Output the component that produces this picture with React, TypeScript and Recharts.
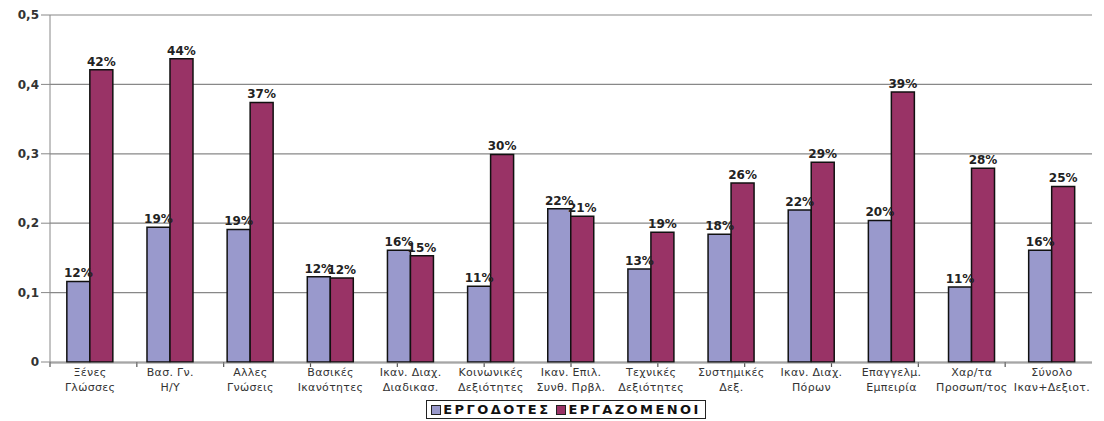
import React from 'react';
import { BarChart, Bar, XAxis, YAxis, CartesianGrid, Legend, LabelList } from 'recharts';

const categories = [
  ['Ξένες', 'Γλώσσες'],
  ['Βασ. Γν.', 'Η/Υ'],
  ['Αλλες', 'Γνώσεις'],
  ['Βασικές', 'Ικανότητες'],
  ['Ικαν. Διαχ.', 'Διαδικασ.'],
  ['Κοινωνικές', 'Δεξιότητες'],
  ['Ικαν. Επιλ.', 'Συνθ. Πρβλ.'],
  ['Τεχνικές', 'Δεξιότητες'],
  ['Συστημικές', 'Δεξ.'],
  ['Ικαν. Διαχ.', 'Πόρων'],
  ['Επαγγελμ.', 'Εμπειρία'],
  ['Χαρ/τα', 'Προσωπ/τος'],
  ['Σύνολο', 'Ικαν+Δεξιοτ.'],
];

const employers = [0.116, 0.194, 0.191, 0.123, 0.161, 0.109, 0.221, 0.134, 0.184, 0.219, 0.204, 0.108, 0.161];
const employees = [0.421, 0.437, 0.374, 0.121, 0.153, 0.299, 0.21, 0.187, 0.258, 0.288, 0.389, 0.279, 0.253];

const yTicks = [0, 0.1, 0.2, 0.3, 0.4, 0.5];
// category boundaries for the small tick marks on the x axis
const edgeTicks = categories.map((_, i) => i).concat([categories.length]);

const BLUE = '#9999cc';
const RED = '#993366';

const data = categories.map((c, i) => ({
  name: c.join('\n'),
  employers: employers[i],
  employees: employees[i],
}));

const pct = (v: number) => Math.round(v * 100) + '%';
const fmtY = (v: number) => (v === 0 ? '0' : v.toFixed(1).replace('.', ','));

const XTick = (props: any) => {
  const { x, y, payload } = props;
  const lines = String(payload.value).split('\n');
  return (
    <text x={x} y={y + 5} textAnchor="middle" fill="#333" fontSize={11} letterSpacing={0.3} fontFamily="DejaVu Sans">
      {lines.map((l, i) => (
        <tspan key={i} x={x} dy={i === 0 ? 0 : 15}>{l}</tspan>
      ))}
    </text>
  );
};

const NoTick = () => <g />;

const LegendBox = () => (
  <div style={{ display: 'flex', justifyContent: 'center', paddingLeft: 40, paddingTop: 3 }}>
    <div
      style={{
        display: 'inline-flex',
        alignItems: 'center',
        border: '1.5px solid #222',
        padding: '1px 4px',
        fontFamily: 'DejaVu Sans',
        fontWeight: 'bold',
        fontSize: 13,
        letterSpacing: 2.4,
        color: '#111',
        lineHeight: '15px',
      }}
    >
      {[{ c: BLUE, t: 'ΕΡΓΟΔΟΤΕΣ' }, { c: RED, t: 'ΕΡΓΑΖΟΜΕΝΟΙ' }].map((it, i) => (
        <span key={i} style={{ display: 'inline-flex', alignItems: 'center', marginLeft: i ? 6 : 0 }}>
          <span style={{ width: 8, height: 8, background: it.c, border: '1.5px solid #222', marginRight: 2 }} />
          {it.t}
        </span>
      ))}
    </div>
  </div>
);

export default function App() {
  return (
    <div style={{ position: 'absolute', left: 0, top: 0, background: '#fff' }}>
      <BarChart
        width={1104}
        height={421}
        data={data}
        margin={{ top: 15, right: 12, left: 0, bottom: 0 }}
        barCategoryGap="21%"
        barGap={0}
      >
        <CartesianGrid xAxisId="cat" yAxisId="left" vertical={false} stroke="#888" strokeWidth={1.2} />
        <XAxis
          xAxisId="a"
          type="number"
          domain={[0, categories.length]}
          ticks={edgeTicks}
          tick={<NoTick />}
          height={1}
          axisLine={false}
          tickLine={{ stroke: '#555', strokeWidth: 1.2 }}
          tickSize={5}
        />
        <XAxis
          xAxisId="cat"
          dataKey="name"
          interval={0}
          tick={<XTick />}
          height={34}
          stroke="#888"
          tickLine={false}
        />
        <YAxis
          yAxisId="left"
          domain={[0, 0.5]}
          ticks={yTicks}
          tickFormatter={fmtY}
          width={50}
          stroke="#888"
          tickSize={9}
          tick={{ fill: '#333', fontSize: 12, fontWeight: 'bold', fontFamily: 'DejaVu Sans' }}
        />
        <YAxis yAxisId="right" orientation="right" width={0} tick={false} stroke="#888" domain={[0, 0.5]} />
        <Legend verticalAlign="bottom" height={24} content={<LegendBox />} />
        <Bar xAxisId="cat" yAxisId="left" dataKey="employers" fill={BLUE} stroke="#111" strokeWidth={1.5} isAnimationActive={false}>
          <LabelList dataKey="employers" position="top" offset={4} formatter={pct}
            style={{ fill: '#222', fontSize: 12, fontWeight: 'bold', fontFamily: 'DejaVu Sans' }} />
        </Bar>
        <Bar xAxisId="cat" yAxisId="left" dataKey="employees" fill={RED} stroke="#111" strokeWidth={1.5} isAnimationActive={false}>
          <LabelList dataKey="employees" position="top" offset={4} formatter={pct}
            style={{ fill: '#222', fontSize: 12, fontWeight: 'bold', fontFamily: 'DejaVu Sans' }} />
        </Bar>
      </BarChart>
    </div>
  );
}
